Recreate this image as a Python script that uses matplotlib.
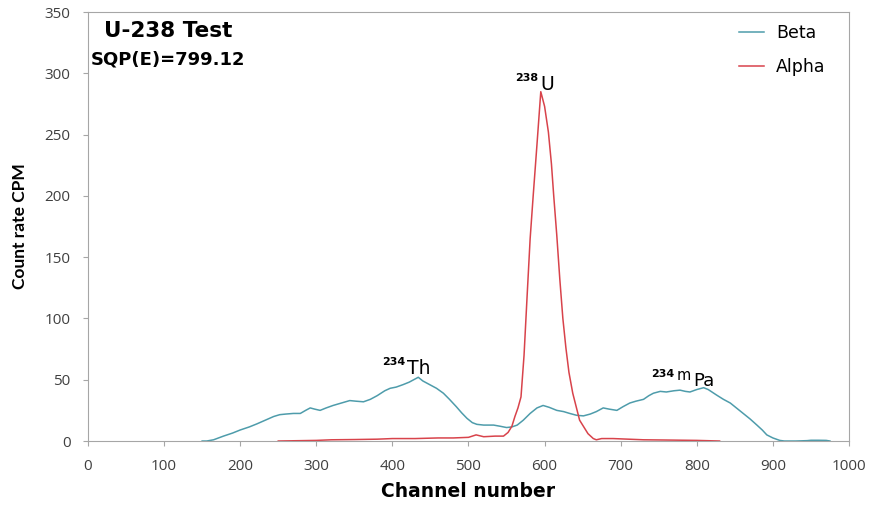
import matplotlib
matplotlib.use("Agg")
import matplotlib.pyplot as plt

# beta spectrum (teal)
beta_ch = [150, 156, 165, 178, 190, 200, 212, 222, 233, 244, 252, 260, 270, 279, 286, 292, 298,
           305, 313, 322, 333, 344, 352, 362, 371, 380, 390, 397, 405, 414, 422, 428, 434, 440,
           449, 458, 467, 475, 484, 491, 498, 505, 511, 520, 533, 542, 550, 557, 564, 572, 581,
           590, 598, 606, 616, 625, 633, 642, 651, 660, 668, 677, 685, 695, 703, 712, 720, 730,
           737, 743, 752, 760, 770, 778, 785, 791, 800, 809, 815, 826, 835, 844, 852, 861, 870,
           879, 886, 892, 900, 909, 915, 930, 945, 950, 960, 970, 975]
beta_cpm = [0, 0, 1, 4, 6.5, 9, 11.5, 14, 17, 20, 21.5, 22, 22.5, 22.5, 25, 27, 26,
            25, 27, 29, 31, 33, 32.5, 32, 34, 37, 41, 43, 44, 46, 48, 50, 52, 49,
            46, 43, 39, 34, 28, 23, 18.5, 15, 13.6, 13, 13, 12, 11, 11.5, 13, 17, 22.5,
            27, 29, 27.5, 25, 24, 22.5, 21, 20.5, 22, 24, 27, 26, 25, 28, 31, 32.5, 34,
            37, 39, 40.5, 40, 41, 41.5, 40.5, 40, 42, 43.5, 42, 37.5, 34, 31, 27, 22.5, 18,
            13, 9, 5, 2.5, 0.5, 0, 0, 0.3, 0.6, 0.6, 0.5, 0]

# alpha spectrum (red)
alpha_ch = [250, 300, 320, 350, 380, 400, 430, 460, 480, 500, 510, 520, 535, 546, 552, 557,
            561, 565, 569, 573, 577, 581, 585, 590, 595, 600, 605, 609, 612, 616, 620, 624,
            628, 632, 637, 646, 657, 664, 668, 675, 690, 710, 730, 760, 800, 830]
alpha_cpm = [0, 0.5, 1, 1.2, 1.5, 2, 2, 2.5, 2.5, 3, 5, 3.5, 4, 4, 7, 12,
             20, 27, 36, 70, 118, 165, 200, 242, 285, 273, 252, 226, 200, 168, 132, 100,
             76, 56, 39, 17, 6, 2, 1, 2, 2, 1.5, 1, 0.8, 0.5, 0]

x_ticks = list(range(0, 1001, 100))
y_ticks = list(range(0, 351, 50))

fig = plt.figure(figsize=(8.73, 5.05), dpi=100)
ax = fig.add_axes([0.1008, 0.1267, 0.8717, 0.8495])

beta_col = "#4e9cab"
alpha_col = "#d8434b"
ax.plot(beta_ch, beta_cpm, color=beta_col, lw=1.1, label="Beta")
ax.plot(alpha_ch, alpha_cpm, color=alpha_col, lw=1.1, label="Alpha")

ax.set_xlim(0, 1000)
ax.set_ylim(0, 350)
ax.set_xticks(x_ticks)
ax.set_yticks(y_ticks)
for s in ax.spines.values():
    s.set_color("#a6a6a6")
ax.tick_params(direction="out", length=3.6, color="#a6a6a6", labelcolor="#404040",
               labelsize=11)
ax.tick_params(axis="y", pad=9)
ax.tick_params(axis="x", pad=9)
for lab in ax.get_xticklabels() + ax.get_yticklabels():
    lab.set_family("Open Sans")

ax.set_xlabel("Channel number", family="DejaVu Sans", fontweight="bold", fontsize=13.5,
              labelpad=6)
ax.set_ylabel("Count rate CPM", family="Lato", fontweight="bold", fontsize=12.5, labelpad=12)

ax.text(0.021, 0.955, "U-238 Test", transform=ax.transAxes, fontweight="bold",
        fontsize=15.5, va="center")
ax.text(0.004, 0.89, "SQP(E)=799.12", transform=ax.transAxes, fontweight="bold",
        fontsize=13, va="center")

# isotope labels, small bold mass number raised like a superscript
def isotope(x, y, mass, name, meta=None):
    ax.annotate(mass, (x, y), xytext=(-1, 6.5), textcoords="offset points",
                ha="right", va="baseline", fontsize=8, fontweight="bold")
    if meta:
        ax.annotate(meta, (x, y), xytext=(0, 4.5), textcoords="offset points",
                    ha="left", va="baseline", fontsize=10.5)
        ax.annotate(name, (x, y), xytext=(12.5, 0), textcoords="offset points",
                    ha="left", va="baseline", fontsize=13)
    else:
        ax.annotate(name, (x, y), xytext=(0, 0), textcoords="offset points",
                    ha="left", va="baseline", fontsize=13.5)

isotope(594, 286, "238", "U")
isotope(419, 55, "234", "Th")
isotope(773, 45, "234", "Pa", meta="m")

leg = ax.legend(loc="upper right", frameon=False, fontsize=12.5, handlelength=1.4,
                handletextpad=0.7, labelspacing=0.9, borderaxespad=0.3,
                bbox_to_anchor=(0.985, 1.0))

fig.savefig("out.png", dpi=100)
